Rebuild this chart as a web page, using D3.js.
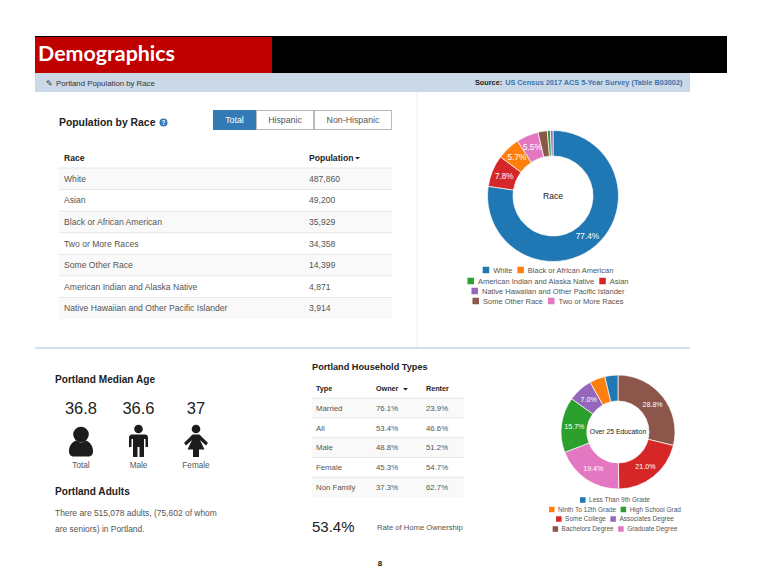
<!DOCTYPE html>
<html>
<head>
<meta charset="utf-8">
<script src="https://cdn.jsdelivr.net/npm/d3@7"></script>
<style>
  body { margin: 0; background: #fff; }
  text { font-family: "Liberation Sans", Arial, sans-serif; }
</style>
</head>
<body>
<script>
var w = 761;
var h = 588;

// race table + first donut (table order = slice order)
var raceNames = ["White", "Asian", "Black or African American", "Two or More Races", "Some Other Race", "American Indian and Alaska Native", "Native Hawaiian and Other Pacific Islander"];
var racePopulation = [487860, 49200, 35929, 34358, 14399, 4871, 3914];
var raceSliceLabels = ["77.4%", "7.8%", "5.7%", "5.5%", "", "", ""];
var raceColorOrder = ["White", "Black or African American", "American Indian and Alaska Native", "Asian", "Native Hawaiian and Other Pacific Islander", "Some Other Race", "Two or More Races"];
var raceLegendRows = [
  ["White", "Black or African American"],
  ["American Indian and Alaska Native", "Asian"],
  ["Native Hawaiian and Other Pacific Islander"],
  ["Some Other Race", "Two or More Races"]
];
var raceTabs = ["Total", "Hispanic", "Non-Hispanic"];

// education donut, small two slices have no label so are estimated
var eduNames = ["Bachelors Degree", "Some College", "Graduate Degree", "High School Grad", "Associates Degree", "Ninth To 12th Grade", "Less Than 9th Grade"];
var eduShares = [28.8, 21.0, 19.4, 15.7, 7.0, 4.4, 3.7];
var eduSliceLabels = ["28.8%", "21.0%", "19.4%", "15.7%", "7.0%", "", ""];
var eduColorOrder = ["Less Than 9th Grade", "Ninth To 12th Grade", "High School Grad", "Some College", "Associates Degree", "Bachelors Degree", "Graduate Degree"];
var eduLegendRows = [
  ["Less Than 9th Grade"],
  ["Ninth To 12th Grade", "High School Grad"],
  ["Some College", "Associates Degree"],
  ["Bachelors Degree", "Graduate Degree"]
];

// household table
var houseTypes = ["Married", "All", "Male", "Female", "Non Family"];
var houseOwner = [76.1, 53.4, 48.8, 45.3, 37.3];
var houseRenter = [23.9, 46.6, 51.2, 54.7, 62.7];

// median age
var ageLabels = ["Total", "Male", "Female"];
var ageValues = ["36.8", "36.6", "37"];

var textDark = "#222";
var textGrey = "#555";
var rowTint = "#f9f9f9";
var ruleGrey = "#e6e6e6";

var svg = d3.select("body").append("svg")
  .attr("width", w)
  .attr("height", h)
  .style("display", "block");

function label(x, y, str, size, fill, weight, anchor) {
  return svg.append("text")
    .attr("x", x)
    .attr("y", y)
    .attr("font-size", size)
    .attr("fill", fill)
    .attr("font-weight", weight || "normal")
    .attr("text-anchor", anchor || "start")
    .text(str);
}

function caret(x, y) {
  svg.append("path")
    .attr("d", "M" + x + "," + y + "h5l-2.5,2.5z")
    .attr("fill", textDark);
}

// banner
svg.append("rect").attr("x", 35).attr("y", 36).attr("width", 692).attr("height", 37).attr("fill", "#000");
svg.append("rect").attr("x", 35).attr("y", 37).attr("width", 237).attr("height", 36).attr("fill", "#c00000");
label(38, 61, "Demographics", 21.4, "#fff", "bold").style("font-family", "Lato, sans-serif");

// blue strip under the banner
svg.append("rect").attr("x", 35).attr("y", 73).attr("width", 655).attr("height", 19).attr("fill", "#cad8e8");
label(46, 86, "✎", 8, "#333").style("font-family", "DejaVu Sans");
label(56, 85.5, "Portland Population by Race", 7.8, "#333");
var source = label(475, 85, "Source:", 7.3, "#222", "bold");
source.append("tspan").attr("fill", "#3b74ad").attr("dx", 3).text("US Census 2017 ACS 5-Year Survey (Table B03002)");

// dividers
svg.append("line").attr("x1", 417).attr("x2", 417).attr("y1", 92).attr("y2", 347).attr("stroke", "#eee");
svg.append("line").attr("x1", 35).attr("x2", 690).attr("y1", 348).attr("y2", 348).attr("stroke", "#a9c0d6");

// section heading + tabs
label(59, 126, "Population by Race", 10.4, textDark, "bold");
svg.append("circle").attr("cx", 163.5).attr("cy", 122.5).attr("r", 4).attr("fill", "#337ab7");
label(163.5, 125, "?", 6.5, "#fff", "bold", "middle");

var tabEdges = [213, 256, 314, 392];
raceTabs.forEach(function(t, i) {
  svg.append("rect")
    .attr("x", tabEdges[i] + 0.5)
    .attr("y", 110.5)
    .attr("width", tabEdges[i + 1] - tabEdges[i] - 1)
    .attr("height", 19)
    .attr("fill", i == 0 ? "#337ab7" : "#fff")
    .attr("stroke", i == 0 ? "#337ab7" : "#bbb");
  label((tabEdges[i] + tabEdges[i + 1]) / 2, 123, t, 8.8, i == 0 ? "#fff" : textGrey, "normal", "middle");
});

// draws striped rows for both tables
function drawRows(names, x0, x1, yTop, yBottom) {
  var y = d3.scaleBand().domain(names).range([yTop, yBottom]);
  var g = svg.append("g");
  g.selectAll("rect").data(names).enter().append("rect")
    .attr("x", x0)
    .attr("y", function(d) { return y(d); })
    .attr("width", x1 - x0)
    .attr("height", y.bandwidth())
    .attr("fill", function(d, i) { return i % 2 == 0 ? rowTint : "#fff"; });
  g.selectAll("line").data(names).enter().append("line")
    .attr("x1", x0)
    .attr("x2", x1)
    .attr("y1", function(d) { return y(d); })
    .attr("y2", function(d) { return y(d); })
    .attr("stroke", ruleGrey);
  return y;
}

function drawColumn(names, values, x, y, size) {
  svg.append("g").selectAll("text").data(names).enter().append("text")
    .attr("x", x)
    .attr("y", function(d) { return y(d) + y.bandwidth() / 2 + size * 0.36; })
    .attr("font-size", size)
    .attr("fill", textGrey)
    .text(function(d, i) { return values[i]; });
}

// race table
label(64, 160.5, "Race", 8.6, textDark, "bold");
label(309, 160.5, "Population", 8.6, textDark, "bold");
caret(355, 157);
var raceY = drawRows(raceNames, 59, 392, 168, 319);
drawColumn(raceNames, raceNames, 64, raceY, 8.6);
drawColumn(raceNames, racePopulation.map(d3.format(",")), 309, raceY, 8.6);

// donut + legend
function drawDonut(names, values, sliceLabels, colorOrder, cx, cy, outer, inner, title, titleSize, labelSize) {
  var color = d3.scaleOrdinal().domain(colorOrder).range(d3.schemeCategory10.slice(0, 7));
  var pie = d3.pie().sort(null).value(function(d) { return d; });
  var arc = d3.arc().innerRadius(inner).outerRadius(outer);
  var g = svg.append("g").attr("transform", "translate(" + cx + "," + cy + ")");
  var slices = pie(values);

  g.selectAll("path").data(slices).enter().append("path")
    .attr("d", arc)
    .attr("fill", function(d, i) { return color(names[i]); })
    .attr("stroke", "#fff")
    .attr("stroke-width", 0.7);

  g.selectAll("text.pct").data(slices).enter().append("text")
    .attr("class", "pct")
    .attr("transform", function(d) { return "translate(" + arc.centroid(d) + ")"; })
    .attr("text-anchor", "middle")
    .attr("dy", "0.35em")
    .attr("font-size", labelSize)
    .attr("fill", "#fff")
    .text(function(d, i) { return sliceLabels[i]; });

  g.append("text")
    .attr("text-anchor", "middle")
    .attr("dy", "0.35em")
    .attr("font-size", titleSize)
    .attr("fill", textDark)
    .text(title);

  return color;
}

function drawLegend(rows, color, cx, rowYs, size, box, gap) {
  rows.forEach(function(row, r) {
    var g = svg.append("g");
    var x = 0;
    row.forEach(function(name) {
      g.append("rect")
        .attr("x", x)
        .attr("y", rowYs[r] - box / 2)
        .attr("width", box)
        .attr("height", box)
        .attr("fill", color(name));
      var t = g.append("text")
        .attr("x", x + box + gap)
        .attr("y", rowYs[r])
        .attr("dy", "0.35em")
        .attr("font-size", size)
        .attr("fill", textGrey)
        .text(name);
      x += box + gap + t.node().getComputedTextLength() + gap + 1;
    });
    g.attr("transform", "translate(" + (cx - (x - gap - 1) / 2) + ",0)");
  });
}

var raceColor = drawDonut(raceNames, racePopulation, raceSliceLabels, raceColorOrder, 553, 196, 65.5, 40, "Race", 8.6, 8.2);
drawLegend(raceLegendRows, raceColor, 548, [270, 281, 291, 301], 7.5, 6.5, 4);

var eduColor = drawDonut(eduNames, eduShares, eduSliceLabels, eduColorOrder, 618, 432, 57, 31, "Over 25 Education", 6.8, 7.1);
drawLegend(eduLegendRows, eduColor, 615, [500, 509.5, 519, 529], 6.5, 5.5, 3.5);

// median age
label(55, 383, "Portland Median Age", 10.1, textDark, "bold");
var ageX = d3.scalePoint().domain(ageLabels).range([81, 196]);
ageLabels.forEach(function(a, i) {
  label(ageX(a), 414, ageValues[i], 16.5, textDark, "normal", "middle");
  label(ageX(a), 468, a, 8.2, textGrey, "normal", "middle");
});

function icon(cx, headY, headR, pathD) {
  var g = svg.append("g").attr("transform", "translate(" + cx + ",0)").attr("fill", "#1c1c1c");
  g.append("circle").attr("cy", headY).attr("r", headR);
  g.append("path").attr("d", pathD);
}
icon(ageX("Total"), 434.5, 7.8, "M-12,451 C-12,445 -8,441 -4,440.5 C-2,443 2,443 4,440.5 C8,441 12,445 12,451 C12,455 10,456.5 7,456.5 L-7,456.5 C-10,456.5 -12,455 -12,451 Z");
icon(ageX("Male"), 429, 4.3, "M-6.5,434.5 H6.5 Q9.5,434.5 9.5,438 V447 H7 V439 H5.5 V457 H1 V447 H-1 V457 H-5.5 V439 H-7 V447 H-9.5 V438 Q-9.5,434.5 -6.5,434.5 Z");
icon(ageX("Female"), 429, 4.3, "M-3.5,434.5 H3.5 L12,443 L10,445.5 L4,440 L8.5,449.5 H3 V457 H-3 V449.5 H-8.5 L-4,440 L-10,445.5 L-12,443 Z");

// adults text
label(55, 495, "Portland Adults", 10.1, textDark, "bold");
label(55, 516, "There are 515,078 adults, (75,602 of whom", 8.45, textGrey);
label(55, 531.5, "are seniors) in Portland.", 8.45, textGrey);

// household table
label(312, 370, "Portland Household Types", 9.2, textDark, "bold");
label(316, 391, "Type", 7.2, textDark, "bold");
label(376, 391, "Owner", 7.2, textDark, "bold");
caret(403, 388);
label(426, 391, "Renter", 7.2, textDark, "bold");
var pct = function(d) { return d.toFixed(1) + "%"; };
var houseY = drawRows(houseTypes, 312, 464, 398, 497);
drawColumn(houseTypes, houseTypes, 316, houseY, 7.8);
drawColumn(houseTypes, houseOwner.map(pct), 376, houseY, 7.8);
drawColumn(houseTypes, houseRenter.map(pct), 426, houseY, 7.8);

label(312, 532, pct(houseOwner[1]), 15, textDark);
label(377, 530, "Rate of Home Ownership", 7.65, textGrey);

// page number
label(380, 566, "8", 8, "#111", "bold", "middle");
</script>
</body>
</html>
